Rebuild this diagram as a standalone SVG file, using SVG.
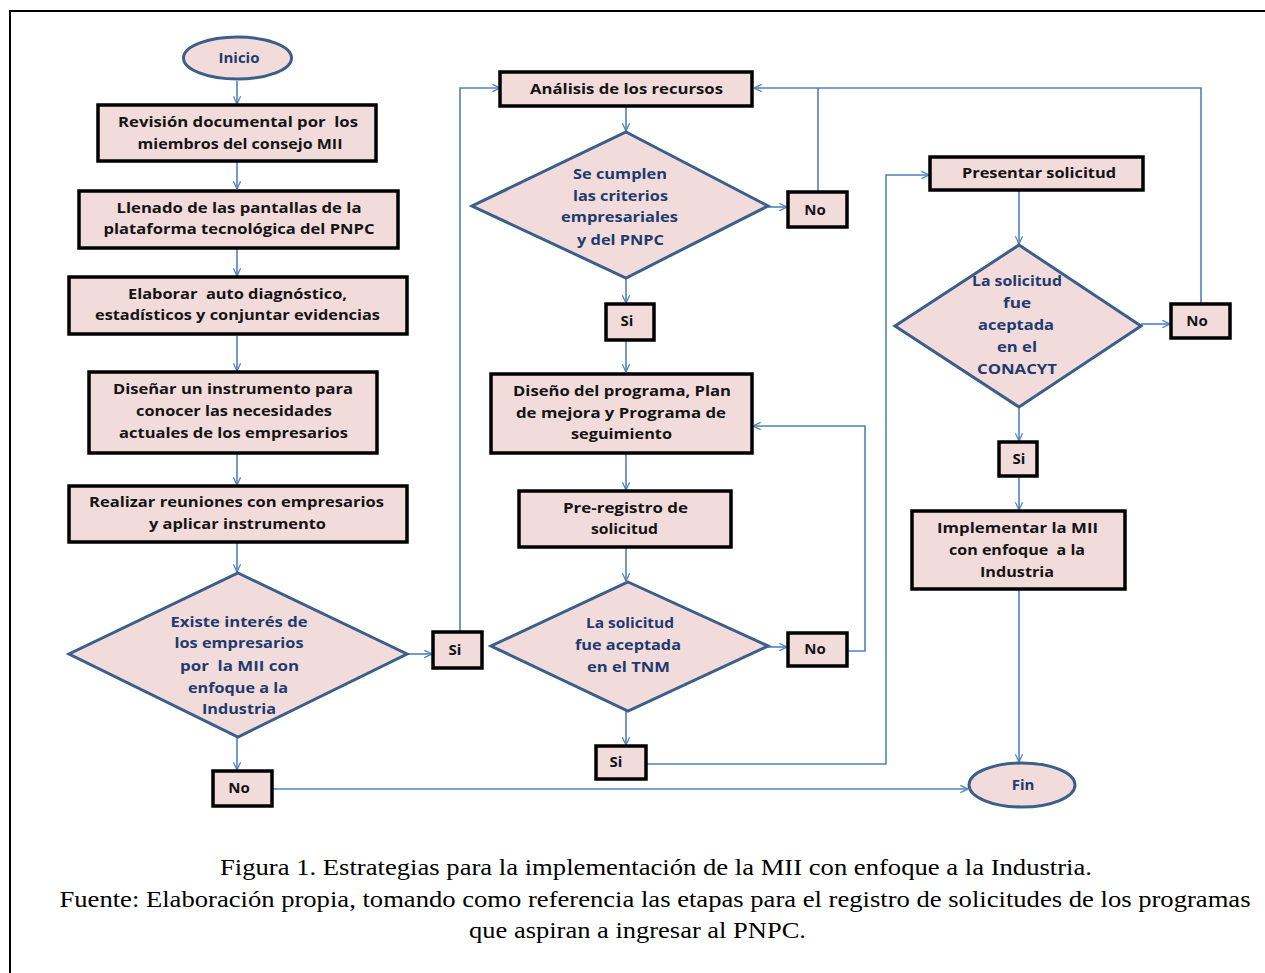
<svg xmlns="http://www.w3.org/2000/svg" width="1265" height="973" viewBox="0 0 1265 973">
  <style>
    .box { fill: #F2DCDB; stroke: #000; stroke-width: 3.5; }
    .dia { fill: #F2DCDB; stroke: #3B5F8A; stroke-width: 3; stroke-linejoin: miter; }
    .term { fill: #F2DCDB; stroke: #3B5F8A; stroke-width: 3; }
    .t { font-family: "Open Sans", "Liberation Sans", sans-serif; font-weight: 700; font-size: 15px; fill: #141414; text-anchor: middle; white-space: pre; }
    .td { font-family: "Open Sans", "Liberation Sans", sans-serif; font-weight: 700; font-size: 15px; fill: #1F3A6E; text-anchor: middle; white-space: pre; }
    .cap { font-family: "Liberation Serif", "Times New Roman", serif; font-size: 24px; fill: #000; text-anchor: middle; }
    .conn path { fill: none; stroke: #4F81BD; stroke-width: 1.6; }
    .frame { stroke: #000; stroke-width: 2; fill: none; }
  </style>
  <defs>
    <marker id="arr" viewBox="0 0 10 10" refX="9.5" refY="5" markerWidth="9" markerHeight="11" markerUnits="userSpaceOnUse" orient="auto">
      <path d="M1,1 L9.5,5 L1,9" fill="none" stroke="#4F81BD" stroke-width="1.4"/>
    </marker>
  </defs>

  <rect width="1265" height="973" fill="#fff"/>
  <path class="frame" d="M10,973 V11 H1265"/>

  <!-- connectors -->
  <g id="connectors" class="conn">
    <path d="M237,81 V104" marker-end="url(#arr)"/>
    <path d="M237,161 V189" marker-end="url(#arr)"/>
    <path d="M237,248 V276" marker-end="url(#arr)"/>
    <path d="M237,336 V371" marker-end="url(#arr)"/>
    <path d="M237,453 V485" marker-end="url(#arr)"/>
    <path d="M237,542 V572" marker-end="url(#arr)"/>
    <path d="M407,654 H432" marker-end="url(#arr)"/>
    <path d="M460,632 V88 H500" marker-end="url(#arr)"/>
    <path d="M237,737 V770" marker-end="url(#arr)"/>
    <path d="M272,789 H968" marker-end="url(#arr)"/>
    <path d="M626,106 V131" marker-end="url(#arr)"/>
    <path d="M768,207 H787" marker-end="url(#arr)"/>
    <path d="M818,192 V88"/>
    <path d="M1201,304 V88 H754" marker-end="url(#arr)"/>
    <path d="M626,278 V303" marker-end="url(#arr)"/>
    <path d="M626,340 V372" marker-end="url(#arr)"/>
    <path d="M626,453 V490" marker-end="url(#arr)"/>
    <path d="M626,547 V581" marker-end="url(#arr)"/>
    <path d="M768,647 H787" marker-end="url(#arr)"/>
    <path d="M847,651 H865 V426 H753" marker-end="url(#arr)"/>
    <path d="M626,711 V745" marker-end="url(#arr)"/>
    <path d="M646,764 H886 V175 H929" marker-end="url(#arr)"/>
    <path d="M1019,190 V244" marker-end="url(#arr)"/>
    <path d="M1141,324 H1170" marker-end="url(#arr)"/>
    <path d="M1019,407 V441" marker-end="url(#arr)"/>
    <path d="M1019,476 V510" marker-end="url(#arr)"/>
    <path d="M1019,589 V762" marker-end="url(#arr)"/>
  </g>

  <!-- left column -->
  <g id="inicio">
    <ellipse class="term" cx="237.5" cy="58" rx="54" ry="21"/>
    <text class="td" x="239" y="63">Inicio</text>
  </g>
  <g id="revision">
    <rect class="box" x="98" y="105" width="278" height="56"/>
    <text class="t" x="238" y="127" textLength="240" lengthAdjust="spacingAndGlyphs">Revisión documental por  los</text>
    <text class="t" x="240" y="149" textLength="205" lengthAdjust="spacingAndGlyphs">miembros del consejo MII</text>
  </g>
  <g id="llenado">
    <rect class="box" x="79" y="191" width="319" height="57"/>
    <text class="t" x="239" y="213" textLength="245" lengthAdjust="spacingAndGlyphs">Llenado de las pantallas de la</text>
    <text class="t" x="239" y="234" textLength="271" lengthAdjust="spacingAndGlyphs">plataforma tecnológica del PNPC</text>
  </g>
  <g id="elaborar">
    <rect class="box" x="69" y="277" width="338" height="57"/>
    <text class="t" x="237.5" y="299" textLength="219" lengthAdjust="spacingAndGlyphs">Elaborar  auto diagnóstico,</text>
    <text class="t" x="237.5" y="320" textLength="285" lengthAdjust="spacingAndGlyphs">estadísticos y conjuntar evidencias</text>
  </g>
  <g id="disenar">
    <rect class="box" x="89" y="372" width="288" height="81"/>
    <text class="t" x="233" y="394" textLength="240" lengthAdjust="spacingAndGlyphs">Diseñar un instrumento para</text>
    <text class="t" x="234" y="416" textLength="196" lengthAdjust="spacingAndGlyphs">conocer las necesidades</text>
    <text class="t" x="233.5" y="438" textLength="229" lengthAdjust="spacingAndGlyphs">actuales de los empresarios</text>
  </g>
  <g id="reuniones">
    <rect class="box" x="69" y="486" width="338" height="56"/>
    <text class="t" x="236.5" y="507" textLength="295" lengthAdjust="spacingAndGlyphs">Realizar reuniones con empresarios</text>
    <text class="t" x="237.5" y="529" textLength="177" lengthAdjust="spacingAndGlyphs">y aplicar instrumento</text>
  </g>
  <g id="interes">
    <polygon class="dia" points="238,573 407,654 238,737 69,654"/>
    <text class="td" x="239" y="627" textLength="137" lengthAdjust="spacingAndGlyphs">Existe interés de</text>
    <text class="td" x="239" y="648" textLength="129" lengthAdjust="spacingAndGlyphs">los empresarios</text>
    <text class="td" x="239.5" y="671" textLength="119" lengthAdjust="spacingAndGlyphs">por  la MII con</text>
    <text class="td" x="238" y="693" textLength="100" lengthAdjust="spacingAndGlyphs">enfoque a la</text>
    <text class="td" x="239" y="714" textLength="74" lengthAdjust="spacingAndGlyphs">Industria</text>
  </g>
  <g id="si1">
    <rect class="box" x="433" y="632" width="49" height="36"/>
    <text class="t" x="455" y="655">Si</text>
  </g>
  <g id="no1">
    <rect class="box" x="213" y="771" width="59" height="35"/>
    <text class="t" x="239" y="793">No</text>
  </g>

  <!-- middle column -->
  <g id="analisis">
    <rect class="box" x="500" y="72" width="252" height="34"/>
    <text class="t" x="626.5" y="94" textLength="193" lengthAdjust="spacingAndGlyphs">Análisis de los recursos</text>
  </g>
  <g id="criterios">
    <polygon class="dia" points="626,132 768,206 626,278 472,206"/>
    <text class="td" x="620" y="179" textLength="94" lengthAdjust="spacingAndGlyphs">Se cumplen</text>
    <text class="td" x="620.5" y="201" textLength="95" lengthAdjust="spacingAndGlyphs">las criterios</text>
    <text class="td" x="619.5" y="222" textLength="117" lengthAdjust="spacingAndGlyphs">empresariales</text>
    <text class="td" x="620.5" y="245" textLength="87" lengthAdjust="spacingAndGlyphs">y del PNPC</text>
  </g>
  <g id="no2">
    <rect class="box" x="788" y="192" width="59" height="35"/>
    <text class="t" x="815" y="215">No</text>
  </g>
  <g id="si2">
    <rect class="box" x="606" y="304" width="48" height="36"/>
    <text class="t" x="627" y="326">Si</text>
  </g>
  <g id="diseno">
    <rect class="box" x="491" y="374" width="261" height="79"/>
    <text class="t" x="622" y="396" textLength="218" lengthAdjust="spacingAndGlyphs">Diseño del programa, Plan</text>
    <text class="t" x="621" y="418" textLength="210" lengthAdjust="spacingAndGlyphs">de mejora y Programa de</text>
    <text class="t" x="621.5" y="439" textLength="101" lengthAdjust="spacingAndGlyphs">seguimiento</text>
  </g>
  <g id="preregistro">
    <rect class="box" x="519" y="491" width="212" height="56"/>
    <text class="t" x="625.5" y="513" textLength="125" lengthAdjust="spacingAndGlyphs">Pre-registro de</text>
    <text class="t" x="624.5" y="534" textLength="67" lengthAdjust="spacingAndGlyphs">solicitud</text>
  </g>
  <g id="tnm">
    <polygon class="dia" points="628,582 768,646 628,711 491,646"/>
    <text class="td" x="630" y="628" textLength="88" lengthAdjust="spacingAndGlyphs">La solicitud</text>
    <text class="td" x="628" y="650" textLength="106" lengthAdjust="spacingAndGlyphs">fue aceptada</text>
    <text class="td" x="628.5" y="672" textLength="83" lengthAdjust="spacingAndGlyphs">en el TNM</text>
  </g>
  <g id="no3">
    <rect class="box" x="788" y="633" width="59" height="33"/>
    <text class="t" x="815" y="654">No</text>
  </g>
  <g id="si3">
    <rect class="box" x="596" y="746" width="50" height="33"/>
    <text class="t" x="616" y="767">Si</text>
  </g>

  <!-- right column -->
  <g id="presentar">
    <rect class="box" x="930" y="157" width="213" height="33"/>
    <text class="t" x="1039" y="178" textLength="154" lengthAdjust="spacingAndGlyphs">Presentar solicitud</text>
  </g>
  <g id="conacyt">
    <polygon class="dia" points="1019,245 1141,326 1019,407 895,326"/>
    <text class="td" x="1017" y="286" textLength="90" lengthAdjust="spacingAndGlyphs">La solicitud</text>
    <text class="td" x="1017" y="308" textLength="28" lengthAdjust="spacingAndGlyphs">fue</text>
    <text class="td" x="1016" y="330" textLength="76" lengthAdjust="spacingAndGlyphs">aceptada</text>
    <text class="td" x="1017" y="352" textLength="40" lengthAdjust="spacingAndGlyphs">en el</text>
    <text class="td" x="1017" y="374" textLength="80" lengthAdjust="spacingAndGlyphs">CONACYT</text>
  </g>
  <g id="no4">
    <rect class="box" x="1171" y="304" width="59" height="34"/>
    <text class="t" x="1197" y="326">No</text>
  </g>
  <g id="si4">
    <rect class="box" x="999" y="442" width="38" height="34"/>
    <text class="t" x="1019" y="464">Si</text>
  </g>
  <g id="implementar">
    <rect class="box" x="912" y="511" width="213" height="78"/>
    <text class="t" x="1017.5" y="533" textLength="161" lengthAdjust="spacingAndGlyphs">Implementar la MII</text>
    <text class="t" x="1017" y="555" textLength="136" lengthAdjust="spacingAndGlyphs">con enfoque  a la</text>
    <text class="t" x="1017" y="577" textLength="74" lengthAdjust="spacingAndGlyphs">Industria</text>
  </g>
  <g id="fin">
    <ellipse class="term" cx="1022" cy="785" rx="53" ry="22"/>
    <text class="td" x="1023" y="790">Fin</text>
  </g>

  <!-- caption -->
  <g id="caption">
    <text class="cap" x="656" y="875" textLength="872" lengthAdjust="spacingAndGlyphs">Figura 1. Estrategias para la implementación de la MII con enfoque a la Industria.</text>
    <text class="cap" x="655" y="907" textLength="1191" lengthAdjust="spacingAndGlyphs">Fuente: Elaboración propia, tomando como referencia las etapas para el registro de solicitudes de los programas</text>
    <text class="cap" x="637.5" y="938" textLength="337" lengthAdjust="spacingAndGlyphs">que aspiran a ingresar al PNPC.</text>
  </g>
</svg>
